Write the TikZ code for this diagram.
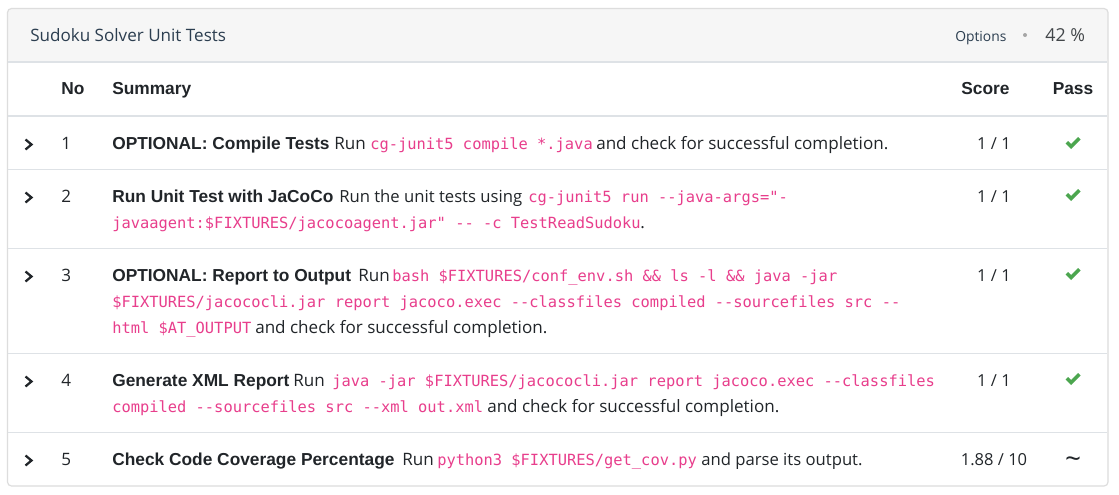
\documentclass[tikz,border=0pt]{standalone}
\usepackage{fontspec}
\setmainfont{Open Sans}
\setmonofont{DejaVu Sans Mono}
\newfontfamily\boldfam{Liberation Sans}
\usepackage{xcolor}
\usetikzlibrary{calc}
\definecolor{ink}{HTML}{212529}
\definecolor{head}{HTML}{2C3E50}
\definecolor{code}{HTML}{E83E8C}
\definecolor{rule}{HTML}{DEE2E6}
\definecolor{frame}{HTML}{DDDDDD}
\definecolor{headbg}{HTML}{F6F6F6}
\definecolor{pass}{HTML}{4CA64F}
\tikzset{
  lab/.style={text=ink, anchor=base west, inner sep=0pt, font=\fontsize{12.8}{14}\selectfont},
  labs/.style={lab, font=\fontsize{12.5}{14}\selectfont},
  labb/.style={lab, font=\fontsize{13}{14}\boldfam\bfseries},
  labc/.style={lab, anchor=base, inner sep=0pt, font=\fontsize{12.4}{14}\selectfont},
  labh/.style={labb, anchor=base},
  mono/.style={lab, text=code, font=\fontsize{11.55}{14}\ttfamily},
  thin rule/.style={draw=rule, line width=0.75pt},
  thick rule/.style={draw=rule, line width=1.5pt},
  chev/.pic={\draw[ink, line width=1.7pt] (-3.5,-5) -- (2.5,0) -- (-3.5,5);},
  tick/.pic={\fill[pass] (-7.5,0.5) -- (-5,-2) -- (-2,1) -- (5,-6) -- (7.5,-3.5) -- (-2,6) -- cycle;},
}
\begin{document}
\begin{tikzpicture}[x=0.75pt, y=-0.75pt]
  \useasboundingbox (0,0) rectangle (1119,494);
  % card and header band
  \fill[white] (0,0) rectangle (1119,494);
  \fill[headbg, rounded corners=3pt] (7.5,8.5) rectangle (1108,62);
  \draw[frame, line width=0.9pt, rounded corners=3pt] (7.5,8.5) rectangle (1108,486);
  \draw[thick rule] (8,62) -- (1107,62);
  \draw[thick rule] (8,116) -- (1107,116);
  \draw[thin rule] (8,169.5) -- (1107,169.5);
  \draw[thin rule] (8,248.5) -- (1107,248.5);
  \draw[thin rule] (8,353.5) -- (1107,353.5);
  \draw[thin rule] (8,432.5) -- (1107,432.5);
  % header
  \node[lab, text=head] (title) at (30,41) {Sudoku Solver Unit Tests};
  \node[lab, text=head, font=\fontsize{10.4}{12}\selectfont] (options) at (955,41) {Options};
  \fill[gray!70] (1025,35) circle (2);
  \node[lab, text=ink!85, font=\fontsize{13.4}{14}\selectfont] (percent) at (1045,41) {42 \%};
  \node[labb] (colno) at (61,94) {No};
  \node[labb] (colsum) at (112,94) {Summary};
  \node[labh] (colscore) at (985.5,94) {Score};
  \node[labh] (colpass) at (1073,94) {Pass};
  % row 1
  \pic at (29,144.5) {chev};
  \node[lab] (no1) at (61,149) {1};
  \node[labb] (name1) at (112,149) {OPTIONAL: Compile Tests};
  \node[lab] (run1) at (334,149) {Run};
  \node[mono] (cmd1) at (370,149) {cg-junit5 compile *.java};
  \node[lab] (end1) at (596,149) {and check for successful completion.};
  \node[labc] (score1) at (994,149) {1 / 1};
  \pic at (1073,143) {tick};
  % row 2
  \pic at (29,197.5) {chev};
  \node[lab] (no2) at (61,202) {2};
  \node[labb] (name2) at (112,202) {Run Unit Test with JaCoCo};
  \node[labs] (run2) at (339,202) {Run the unit tests using};
  \node[mono] (cmd2a) at (528,202) {cg-junit5 run --java-args="-};
  \node[mono] (cmd2b) at (112,228) {javaagent:\$FIXTURES/jacocoagent.jar" -- -c TestReadSudoku};
  \node[lab] (end2) at (640,228) {.};
  \node[labc] (score2) at (994,202) {1 / 1};
  \pic at (1073,195) {tick};
  % row 3
  \pic at (29,276.5) {chev};
  \node[lab] (no3) at (61,281) {3};
  \node[labb] (name3) at (112,281) {OPTIONAL: Report to Output};
  \node[lab] (run3) at (358,281) {Run};
  \node[mono] (cmd3a) at (392,281) {bash \$FIXTURES/conf\_env.sh \&\& ls -l \&\& java -jar};
  \node[mono] (cmd3b) at (112,307) {\$FIXTURES/jacococli.jar report jacoco.exec --classfiles compiled --sourcefiles src --};
  \node[mono] (cmd3c) at (112,333) {html \$AT\_OUTPUT};
  \node[lab] (end3) at (255,333) {and check for successful completion.};
  \node[labc] (score3) at (994,281) {1 / 1};
  \pic at (1073,274) {tick};
  % row 4
  \pic at (29,381.5) {chev};
  \node[lab] (no4) at (61,386) {4};
  \node[labb] (name4) at (112,386) {Generate XML Report};
  \node[lab] (run4) at (293,386) {Run};
  \node[mono] (cmd4a) at (332,386) {java -jar \$FIXTURES/jacococli.jar report jacoco.exec --classfiles};
  \node[mono] (cmd4b) at (112,412) {compiled --sourcefiles src --xml out.xml};
  \node[lab] (end4) at (487,412) {and check for successful completion.};
  \node[labc] (score4) at (994,386) {1 / 1};
  \pic at (1073,379) {tick};
  % row 5
  \pic at (29,460.5) {chev};
  \node[lab] (no5) at (61,465) {5};
  \node[labb] (name5) at (112,465) {Check Code Coverage Percentage};
  \node[lab] (run5) at (402,465) {Run};
  \node[mono] (cmd5) at (437,465) {python3 \$FIXTURES/get\_cov.py};
  \node[labs] (end5) at (701,465) {and parse its output.};
  \node[labc] (score5) at (994,465) {1.88 / 10};
  \node[labc, font=\fontsize{21}{21}\selectfont] (pass5) at (1073,468) {\textasciitilde};
\end{tikzpicture}
\end{document}
